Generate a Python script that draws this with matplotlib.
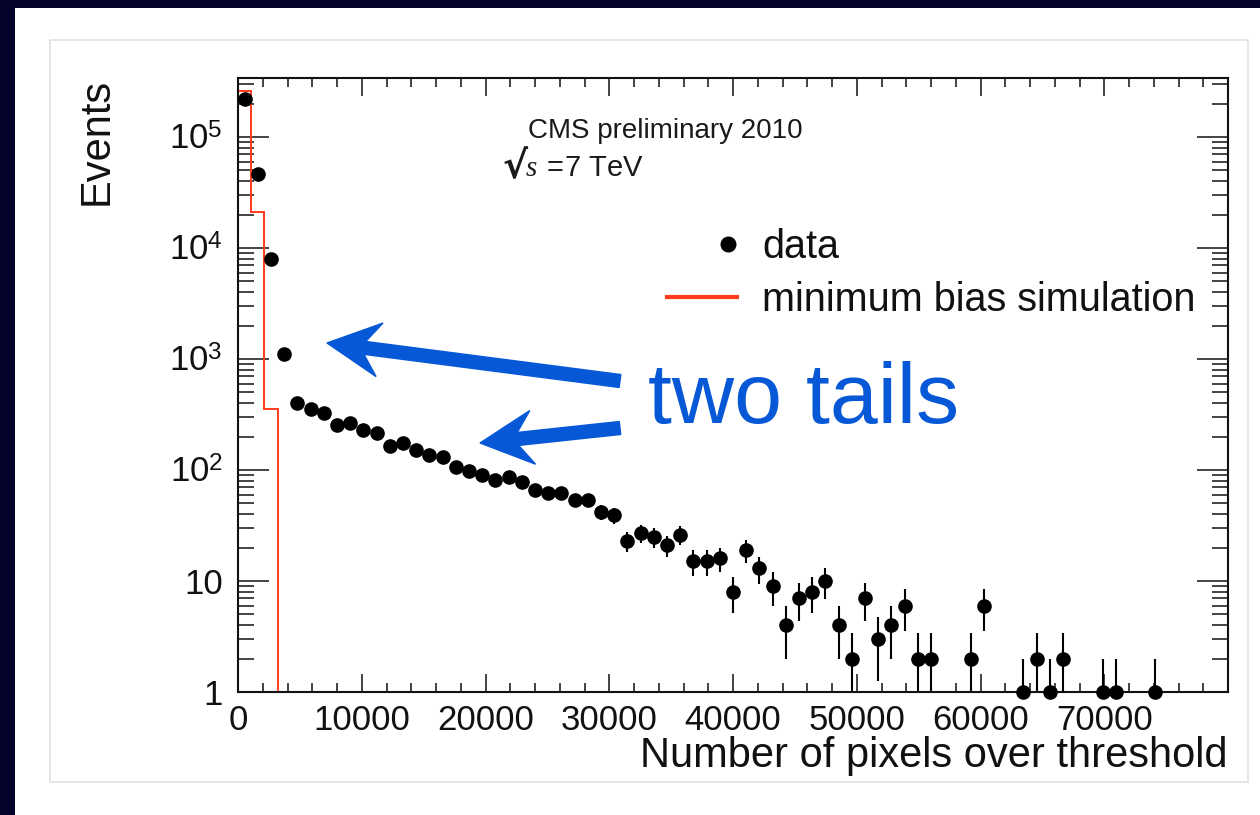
import numpy as np
import matplotlib.pyplot as plt
from matplotlib.patches import Rectangle, FancyArrow
from matplotlib.legend_handler import HandlerLine2D
from matplotlib.lines import Line2D
from matplotlib.ticker import LogLocator, MultipleLocator, NullFormatter

plt.rcParams['font.family'] = ['Liberation Sans', 'DejaVu Sans']
plt.rcParams['mathtext.fontset'] = 'custom'
plt.rcParams['mathtext.rm'] = 'Liberation Sans'
plt.rcParams['mathtext.it'] = 'Liberation Serif:italic'
plt.rcParams['mathtext.bf'] = 'Liberation Sans:bold'

# histogram binning: 75 bins between 0 and 80000 pixels
n_bins = 75
x_max = 80000

# events per bin (data), empty bins are 0
data_counts = [220000, 46000, 8000, 1110, 404, 356, 328, 252, 266, 227,
               216, 166, 176, 150, 137, 131, 106, 98, 90, 82,
               87, 78, 66, 62, 62, 54, 54, 42, 39, 23,
               27, 25, 21, 26, 15, 15, 16, 8, 19, 13,
               9, 4, 7, 8, 10, 4, 2, 7, 3, 4,
               6, 2, 2, 0, 0, 2, 6, 0, 0, 1,
               2, 1, 2, 0, 0, 1, 1, 0, 0, 1,
               0, 0, 0, 0, 0]

# minimum bias MC, only the first bins are filled
mc_counts = [260000, 21000, 356]

x_ticks = [0, 10000, 20000, 30000, 40000, 50000, 60000, 70000]
y_ticks = [1, 10, 1e2, 1e3, 1e4, 1e5]
y_tick_labels = ['1', '10', r'$10^{2}$', r'$10^{3}$', r'$10^{4}$', r'$10^{5}$']

navy = '#03032c'
blue = '#0658d6'
red = '#ff3b1c'
ink = '#111111'

edges = np.linspace(0, x_max, n_bins + 1)
centres = 0.5 * (edges[:-1] + edges[1:])
counts = np.array(data_counts, dtype=float)
filled = counts > 0

W, H = 1260, 815
fig = plt.figure(figsize=(W / 100, H / 100), dpi=100)

# slide background: dark frame, white page, faint panel border
fig.patches.append(Rectangle((0, 0), 1, 1, transform=fig.transFigure,
                             facecolor=navy, edgecolor='none', zorder=-3))
fig.patches.append(Rectangle((15 / W, 0), 1, (H - 8) / H, transform=fig.transFigure,
                             facecolor='white', edgecolor='none', zorder=-2))
fig.patches.append(Rectangle((50 / W, (H - 782) / H), (1248 - 50) / W, (782 - 40) / H,
                             transform=fig.transFigure, facecolor='none',
                             edgecolor='#e2e2e2', lw=1.2, zorder=-1))

ax = fig.add_axes([238 / W, (H - 692) / H, (1228 - 238) / W, (692 - 78) / H])
ax.set_facecolor('white')
ax.set_yscale('log')

ax.stairs(mc_counts, edges[:len(mc_counts) + 1], baseline=0, color=red, lw=1.4, zorder=2)

markers, caps, bars = ax.errorbar(centres[filled], counts[filled],
                                  yerr=np.sqrt(counts[filled]),
                                  fmt='o', color='black', ms=9.5, elinewidth=1.5,
                                  capsize=0, zorder=3)
# dots sitting on the lower edge stay whole, error bars are cut at the frame
markers.set_clip_on(False)

ax.set_xlim(0, x_max)
ax.set_ylim(1, 3.4e5)

ax.set_xticks(x_ticks, [str(t) for t in x_ticks])
ax.xaxis.set_minor_locator(MultipleLocator(2000))
ax.set_yticks(y_ticks, y_tick_labels)
ax.yaxis.set_minor_locator(LogLocator(base=10, subs=range(2, 10), numticks=20))
ax.yaxis.set_minor_formatter(NullFormatter())

ax.tick_params(which='both', direction='in', top=True, right=True,
               width=1.1, colors=ink, labelsize=25)
ax.tick_params(axis='x', which='major', length=13, pad=9)
ax.tick_params(axis='x', which='minor', length=6.5)
ax.tick_params(axis='y', which='major', length=22, pad=11)
ax.tick_params(axis='y', which='minor', length=11.5)
for s in ax.spines.values():
    s.set_linewidth(1.5)
    s.set_color(ink)

ax.set_xlabel('Number of pixels over threshold', loc='right', fontsize=30, color=ink)
ax.xaxis.set_label_coords(1.0, -0.071)
ax.set_ylabel('Events', loc='top', fontsize=30, color=ink)
ax.yaxis.set_label_coords(-0.123, 1.0)


class MarkerRight(HandlerLine2D):
    # single-point key: the dot is drawn at the middle of xdata,
    # so shift the span to push it near the right end of the key
    def get_xdata(self, legend, xdescent, ydescent, width, height, fontsize):
        xdata = np.array([-xdescent + 0.74 * width, -xdescent + width])
        return xdata, xdata


data_key = Line2D([], [], marker='o', ls='none', color='black', ms=10.5)
mc_key = Line2D([], [], color=red, lw=3)
ax.legend([data_key, mc_key], ['data', 'minimum bias simulation'],
          handler_map={data_key: MarkerRight(numpoints=1)},
          loc='upper left', bbox_to_anchor=(667 / W, (H - 228) / H),
          bbox_transform=fig.transFigure, frameon=False, fontsize=28.5,
          borderpad=0, borderaxespad=0, handlelength=1.77, handletextpad=0.63,
          labelspacing=0.38, labelcolor=ink)

fig.text(528 / W, (H - 138) / H, 'CMS preliminary 2010', fontsize=20,
         va='baseline', color='#1a1a1a')
# sqrt(s) = 7 TeV: a large radical sign followed by the rest of the line
fig.text(503 / W, (H - 178) / H, '√', fontsize=27, fontweight='bold',
         family='DejaVu Sans', va='baseline', color='#1a1a1a')
fig.text(525 / W, (H - 176) / H, r'$s\;=\!\mathit{7}$ TeV', fontsize=21,
         va='baseline', color='#1a1a1a')

# annotation arrows, tail -> tip in page pixels
def page_arrow(tail, tip):
    x0, y0 = tail[0] / 100, (H - tail[1]) / 100
    x1, y1 = tip[0] / 100, (H - tip[1]) / 100
    fig.patches.append(FancyArrow(x0, y0, x1 - x0, y1 - y0, width=0.13,
                                  head_width=0.54, head_length=0.53, overhang=0.28,
                                  length_includes_head=True, color=blue,
                                  transform=fig.dpi_scale_trans, zorder=5))


page_arrow((620, 381), (327, 343))
page_arrow((620, 428), (480, 443))
fig.text(648 / W, (H - 423) / H, 'two tails', fontsize=62, color=blue, va='baseline')

fig.savefig('out.png', dpi=100)
